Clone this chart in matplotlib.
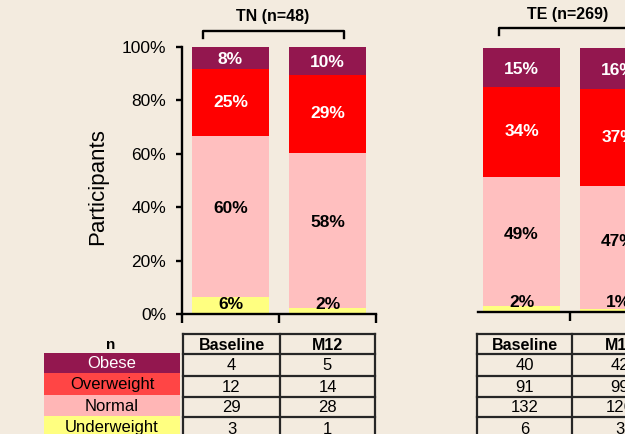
import numpy as np
import matplotlib.pyplot as plt
from matplotlib.patches import Rectangle

plt.rcParams['font.family'] = ['Liberation Sans', 'DejaVu Sans']

# BMI class counts, bottom to top of each stacked bar
bmi_classes = ["Underweight", "Normal", "Overweight", "Obese"]
visits = ["Baseline", "M12"]
tn_baseline = [3, 29, 12, 4]
tn_m12 = [1, 28, 14, 5]
te_baseline = [6, 132, 91, 40]
te_m12 = [3, 126, 99, 42]
tn_title = "TN (n=48)"
te_title = "TE (n=269)"
yticks = [0, 20, 40, 60, 80, 100]

bg = '#f3ebdf'
bar_colors = ['#ffff80', '#ffbfbf', '#ff0000', '#93174f']
key_colors = ['#ffff80', '#ffb6b6', '#ff4545', '#93174f']
label_colors = ['black', 'black', 'white', 'white']
label_frac = [None, 0.55, 0.5, 0.45]   # where in the segment the % sits
line_col = '#262626'

W, H = 625, 434
fig = plt.figure(figsize=(6.25, 4.34), dpi=100, facecolor=bg)


def px_axes(x0, y0, x1, y1):
    return fig.add_axes([x0 / W, 1 - y1 / H, (x1 - x0) / W, (y1 - y0) / H])


def draw_bars(ax, groups):
    ax.set_facecolor('none')
    for i, counts in enumerate(groups):
        share = np.array(counts) / sum(counts) * 100
        bottom = 0
        for k, v in enumerate(share):
            ax.bar(i, v, bottom=bottom, width=0.8, color=bar_colors[k],
                   edgecolor='none')
            ypos = bottom + v * label_frac[k] if k > 0 else 3.5
            ax.text(i, ypos, f"{v:.0f}%", ha='center', va='center',
                    fontsize=12.5, fontweight='bold', color=label_colors[k])
            bottom += v
    ax.set_ylim(0, 100)
    for s in ['top', 'right']:
        ax.spines[s].set_visible(False)
    ax.spines['bottom'].set_linewidth(1.7)
    ax.spines['left'].set_linewidth(1.7)
    ax.tick_params(axis='x', direction='out', length=6.5, width=1.7,
                   labelbottom=False)


ax1 = px_axes(182, 47, 376, 314)
draw_bars(ax1, [tn_baseline, tn_m12])
ax1.set_xlim(-0.5, 1.5)
ax1.set_xticks([-0.5, 0.5, 1.5])
ax1.set_yticks(yticks)
ax1.set_yticklabels([f"{v}%" for v in yticks], fontsize=12.5)
ax1.tick_params(axis='y', direction='out', length=4.5, width=1.7, pad=7)
ax1.set_ylabel("Participants", fontsize=16)
ax1.yaxis.set_label_coords(-0.383, 0.478)

ax2 = px_axes(478, 48, 667, 312)
draw_bars(ax2, [te_baseline, te_m12])
ax2.set_xlim(-0.45, 1.5)
ax2.set_xticks([0.5])
ax2.spines['left'].set_visible(False)
ax2.set_yticks([])

# overlay in pixel coordinates for brackets and tables
ov = fig.add_axes([0, 0, 1, 1])
ov.set_xlim(0, W)
ov.set_ylim(H, 0)
ov.axis('off')

ov.plot([203, 203, 344, 344], [38, 31, 31, 38], color='black', lw=1.7)
ov.text(273, 17, tn_title, ha='center', va='center', fontsize=11.5,
        fontweight='bold')
ov.plot([499, 499, 660, 660], [35, 28, 28, 35], color='black', lw=1.7)
ov.text(568, 15, te_title, ha='center', va='center', fontsize=11.5,
        fontweight='bold')

# colour key column
key_rows = [353, 373, 395, 416, 437]
ov.text(111, 345, "n", ha='center', va='center', fontsize=11,
        fontweight='bold')
for r, k in enumerate(range(3, -1, -1)):
    y0, y1 = key_rows[r], key_rows[r + 1]
    ov.add_patch(Rectangle((44, y0), 136, y1 - y0, color=key_colors[k], lw=0))
    ov.text(112, (y0 + y1) / 2 + 1, bmi_classes[k], ha='center', va='center',
            fontsize=12, color='white' if k == 3 else 'black')


def draw_table(cols, groups):
    rows = [334, 354, 376, 397, 417, 440]
    for x in cols:
        ov.plot([x, x], [rows[0], rows[-1]], color=line_col, lw=1.6)
    for y in rows[:-1]:
        ov.plot([cols[0], cols[-1]], [y, y], color=line_col, lw=1.6)
    for c, counts in enumerate(groups):
        xc = (cols[c] + cols[c + 1]) / 2
        ov.text(xc, (rows[0] + rows[1]) / 2 + 1, visits[c], ha='center',
                va='center', fontsize=11.5, fontweight='bold')
        for r, k in enumerate(range(3, -1, -1)):
            ov.text(xc, (rows[r + 1] + rows[r + 2]) / 2 + 1, str(counts[k]),
                    ha='center', va='center', fontsize=12)


draw_table([183, 280, 375], [tn_baseline, tn_m12])
draw_table([477, 572, 668], [te_baseline, te_m12])

fig.savefig('out.png', dpi=100, facecolor=bg)
